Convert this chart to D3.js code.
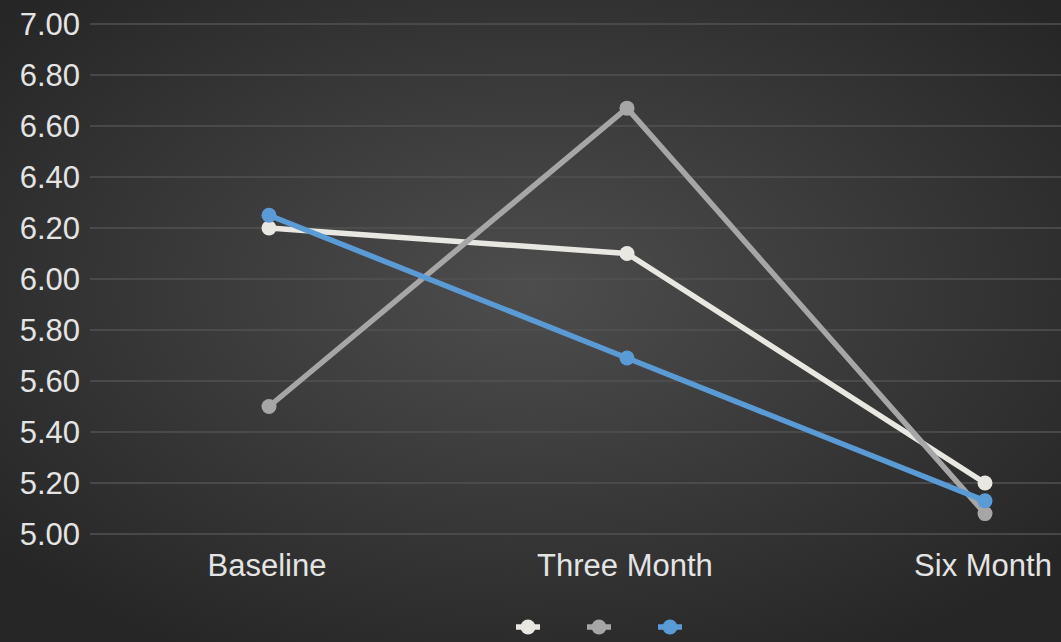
<!DOCTYPE html>
<html>
<head>
<meta charset="utf-8">
<script src="https://d3js.org/d3.v7.min.js"></script>
<style>
  body { margin: 0; background: #262626; }
  text { font-family: "Liberation Sans", Arial, sans-serif; }
</style>
</head>
<body>
<svg width="1061" height="642"></svg>
<script>
var categories = ["Baseline", "Three Month", "Six Month"];
var seriesA = [6.20, 6.10, 5.20];
var seriesB = [5.50, 6.67, 5.08];
var seriesC = [6.25, 5.69, 5.13];
var seriesColors = ["#e9e7e1", "#a6a6a6", "#5b9bd5"];
var yTicks = [5.0, 5.2, 5.4, 5.6, 5.8, 6.0, 6.2, 6.4, 6.6, 6.8, 7.0];

var svg = d3.select("svg");
var W = 1061, H = 642;

var defs = svg.append("defs");
var grad = defs.append("radialGradient").attr("id", "bg")
  .attr("cx", "50%").attr("cy", "45%").attr("r", "65%");
grad.append("stop").attr("offset", "0%").attr("stop-color", "#4d4d4d");
grad.append("stop").attr("offset", "100%").attr("stop-color", "#262626");
svg.append("rect").attr("width", W).attr("height", H).attr("fill", "url(#bg)");

var x = d3.scaleBand().domain(categories).range([90, 1164]);
var y = d3.scaleLinear().domain([5, 7]).range([534, 24]);

// gridlines
svg.append("g").selectAll("line").data(yTicks).enter().append("line")
  .attr("x1", 90).attr("x2", W)
  .attr("y1", function(d) { return y(d); })
  .attr("y2", function(d) { return y(d); })
  .attr("stroke", "#525252").attr("stroke-width", 1.5);

// y labels
svg.append("g").selectAll("text").data(yTicks).enter().append("text")
  .attr("x", 80).attr("y", function(d) { return y(d); })
  .attr("dy", "0.35em").attr("text-anchor", "end")
  .attr("font-size", 31).attr("fill", "#e4e4e4")
  .text(function(d) { return d.toFixed(2); });

// x labels
svg.append("g").selectAll("text").data(categories).enter().append("text")
  .attr("x", function(d) { return x(d) + x.bandwidth() / 2 - 2; })
  .attr("y", 576).attr("text-anchor", "middle")
  .attr("font-size", 31).attr("fill", "#e4e4e4")
  .text(function(d) { return d; });

var allSeries = [seriesA, seriesB, seriesC];
var line = d3.line()
  .x(function(d, i) { return x(categories[i]) + x.bandwidth() / 2; })
  .y(function(d) { return y(d); });

allSeries.forEach(function(s, k) {
  var g = svg.append("g");
  g.append("path").attr("d", line(s)).attr("fill", "none")
    .attr("stroke", seriesColors[k]).attr("stroke-width", 5.5)
    .attr("stroke-linejoin", "round");
  g.selectAll("circle").data(s).enter().append("circle")
    .attr("cx", function(d, i) { return x(categories[i]) + x.bandwidth() / 2; })
    .attr("cy", function(d) { return y(d); })
    .attr("r", 7.5).attr("fill", seriesColors[k]);
});

// legend
var legend = svg.append("g");
seriesColors.forEach(function(c, k) {
  var cx = 528 + k * 71;
  legend.append("line").attr("x1", cx - 12).attr("x2", cx + 12)
    .attr("y1", 627).attr("y2", 627)
    .attr("stroke", c).attr("stroke-width", 5.5);
  legend.append("circle").attr("cx", cx).attr("cy", 627).attr("r", 7.5).attr("fill", c);
});
</script>
</body>
</html>
